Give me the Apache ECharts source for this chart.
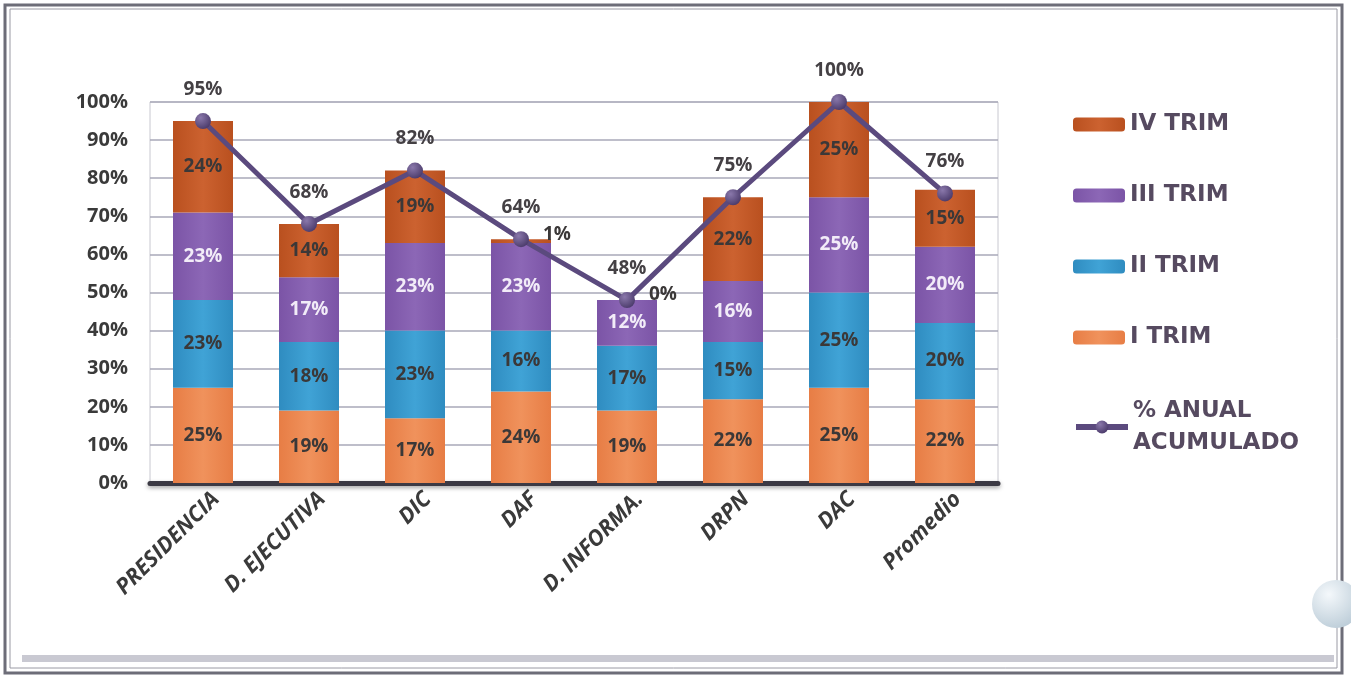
<!DOCTYPE html>
<html>
<head>
<meta charset="utf-8">
<script src="https://cdn.jsdelivr.net/npm/echarts@6/dist/echarts.min.js"></script>
<style>
  html, body { margin: 0; padding: 0; background: #ffffff; }
  #chart { width: 1351px; height: 681px; }
</style>
</head>
<body>
<div id="chart"></div>
<script>
// Quarterly execution by unit, stacked, with the cumulative annual percentage
const categories = ['PRESIDENCIA', 'D. EJECUTIVA', 'DIC', 'DAF', 'D. INFORMA.', 'DRPN', 'DAC', 'Promedio'];
const trim1 = [25, 19, 17, 24, 19, 22, 25, 22];
const trim2 = [23, 18, 23, 16, 17, 15, 25, 20];
const trim3 = [23, 17, 23, 23, 12, 16, 25, 20];
const trim4 = [24, 14, 19, 1, 0, 22, 25, 15];
const anualAcumulado = [95, 68, 82, 64, 48, 75, 100, 76];
const yTicks = [0, 10, 20, 30, 40, 50, 60, 70, 80, 90, 100];

const labelFont = '"Open Sans", "DejaVu Sans", sans-serif';
const legendFont = '"DejaVu Sans", "Liberation Sans", sans-serif';
const lineColor = '#5b4a7e';

function barGradient(edge, mid) {
  return new echarts.graphic.LinearGradient(0, 0, 1, 0, [
    { offset: 0, color: edge },
    { offset: 0.5, color: mid },
    { offset: 1, color: edge }
  ]);
}

function segLabel(color) {
  return {
    show: true,
    position: 'inside',
    formatter: p => p.value + '%',
    color: color,
    fontFamily: labelFont,
    fontWeight: 'bold',
    fontSize: 19
  };
}

// Small last-quarter values get their label beside the bar top
const trim4Data = trim4.map(v => v < 5
  ? { value: v, label: { position: 'right', distance: 0, offset: [-8, -6] } }
  : v);

const chart = echarts.init(document.getElementById('chart'));

chart.setOption({
  backgroundColor: '#ffffff',
  animation: false,
  graphic: [
    { type: 'rect', shape: { x: 5, y: 5, width: 1337, height: 668 }, style: { fill: 'none', stroke: '#6d6d78', lineWidth: 3 }, z: 0 },
    { type: 'rect', shape: { x: 10, y: 9, width: 1327, height: 659 }, style: { fill: 'none', stroke: '#9a9aa4', lineWidth: 1 }, z: 0 },
    { type: 'rect', shape: { x: 22, y: 655, width: 1312, height: 7 }, style: { fill: '#c9c9d2' }, z: 0 },
    { type: 'circle', shape: { cx: 1336, cy: 604, r: 24 },
      style: { fill: new echarts.graphic.RadialGradient(0.35, 0.3, 0.8, [
        { offset: 0, color: '#f4f8fb' }, { offset: 1, color: '#b9cad6' }]) }, z: 0 }
  ],
  grid: { left: 150, right: 353, top: 102, bottom: 198, containLabel: false,
          show: true, borderColor: '#c8c8d0', borderWidth: 1 },
  legend: [
    {
      orient: 'vertical',
      left: 1068,
      top: 108,
      itemWidth: 52,
      itemHeight: 14,
      itemGap: 48,
      data: ['IV TRIM', 'III TRIM', 'II TRIM', 'I TRIM'],
      textStyle: { color: '#564a60', fontFamily: legendFont, fontWeight: 'bold', fontSize: 23 }
    },
    {
      orient: 'vertical',
      left: 1068,
      top: 374,
      itemWidth: 52,
      itemHeight: 16,
      data: ['% ANUAL ACUMULADO'],
      lineStyle: { width: 6, color: lineColor },
      formatter: n => n.replace('ANUAL ', 'ANUAL\n'),
      textStyle: { color: '#564a60', fontFamily: legendFont, fontWeight: 'bold', fontSize: 23, lineHeight: 32, padding: [32, 0, 0, 0] }
    }
  ],
  xAxis: {
    type: 'category',
    data: categories,
    axisLine: { show: true, lineStyle: { color: '#3c3a44', width: 5, shadowColor: 'rgba(0,0,0,0.35)', shadowBlur: 4, shadowOffsetY: 2 } },
    axisTick: { show: false },
    axisLabel: {
      interval: 0,
      rotate: 45,
      margin: 0,
      verticalAlign: 'top',
      lineHeight: 36,
      color: '#3a3a3a',
      fontFamily: labelFont,
      fontWeight: 'bold',
      fontStyle: 'italic',
      fontSize: 22
    }
  },
  yAxis: {
    type: 'value',
    min: yTicks[0],
    max: yTicks[yTicks.length - 1],
    interval: 10,
    axisLine: { show: false },
    axisTick: { show: false },
    splitLine: { lineStyle: { color: '#a9a9b8', width: 1.5 } },
    axisLabel: {
      margin: 22,
      color: '#3a3a3a',
      fontFamily: labelFont,
      fontWeight: 'bold',
      fontSize: 20,
      formatter: v => v + '%'
    }
  },
  series: [
    {
      name: 'I TRIM', type: 'bar', stack: 'trim', barWidth: 60, data: trim1,
      itemStyle: { color: barGradient('#e77d45', '#f0925c') },
      label: segLabel('#3b3838')
    },
    {
      name: 'II TRIM', type: 'bar', stack: 'trim', barWidth: 60, data: trim2,
      itemStyle: { color: barGradient('#2f8cc0', '#40a3d6') },
      label: segLabel('#3b3838')
    },
    {
      name: 'III TRIM', type: 'bar', stack: 'trim', barWidth: 60, data: trim3,
      itemStyle: { color: barGradient('#7b54a6', '#8c67b6') },
      label: segLabel('#f2ecf8')
    },
    {
      name: 'IV TRIM', type: 'bar', stack: 'trim', barWidth: 60, data: trim4Data,
      itemStyle: { color: barGradient('#b9501f', '#cc6230') },
      label: segLabel('#3b3838')
    },
    {
      name: '% ANUAL ACUMULADO', type: 'line', data: anualAcumulado,
      symbol: 'circle', symbolSize: 16, z: 10,
      lineStyle: { color: lineColor, width: 5 },
      itemStyle: {
        color: new echarts.graphic.RadialGradient(0.35, 0.3, 0.75, [
          { offset: 0, color: '#8a78ab' }, { offset: 1, color: '#4a3a6a' }])
      },
      label: {
        show: true,
        position: 'top',
        distance: 14,
        formatter: p => p.value + '%',
        color: '#444044',
        fontFamily: labelFont,
        fontWeight: 'bold',
        fontSize: 19
      }
    }
  ]
});
</script>
</body>
</html>
